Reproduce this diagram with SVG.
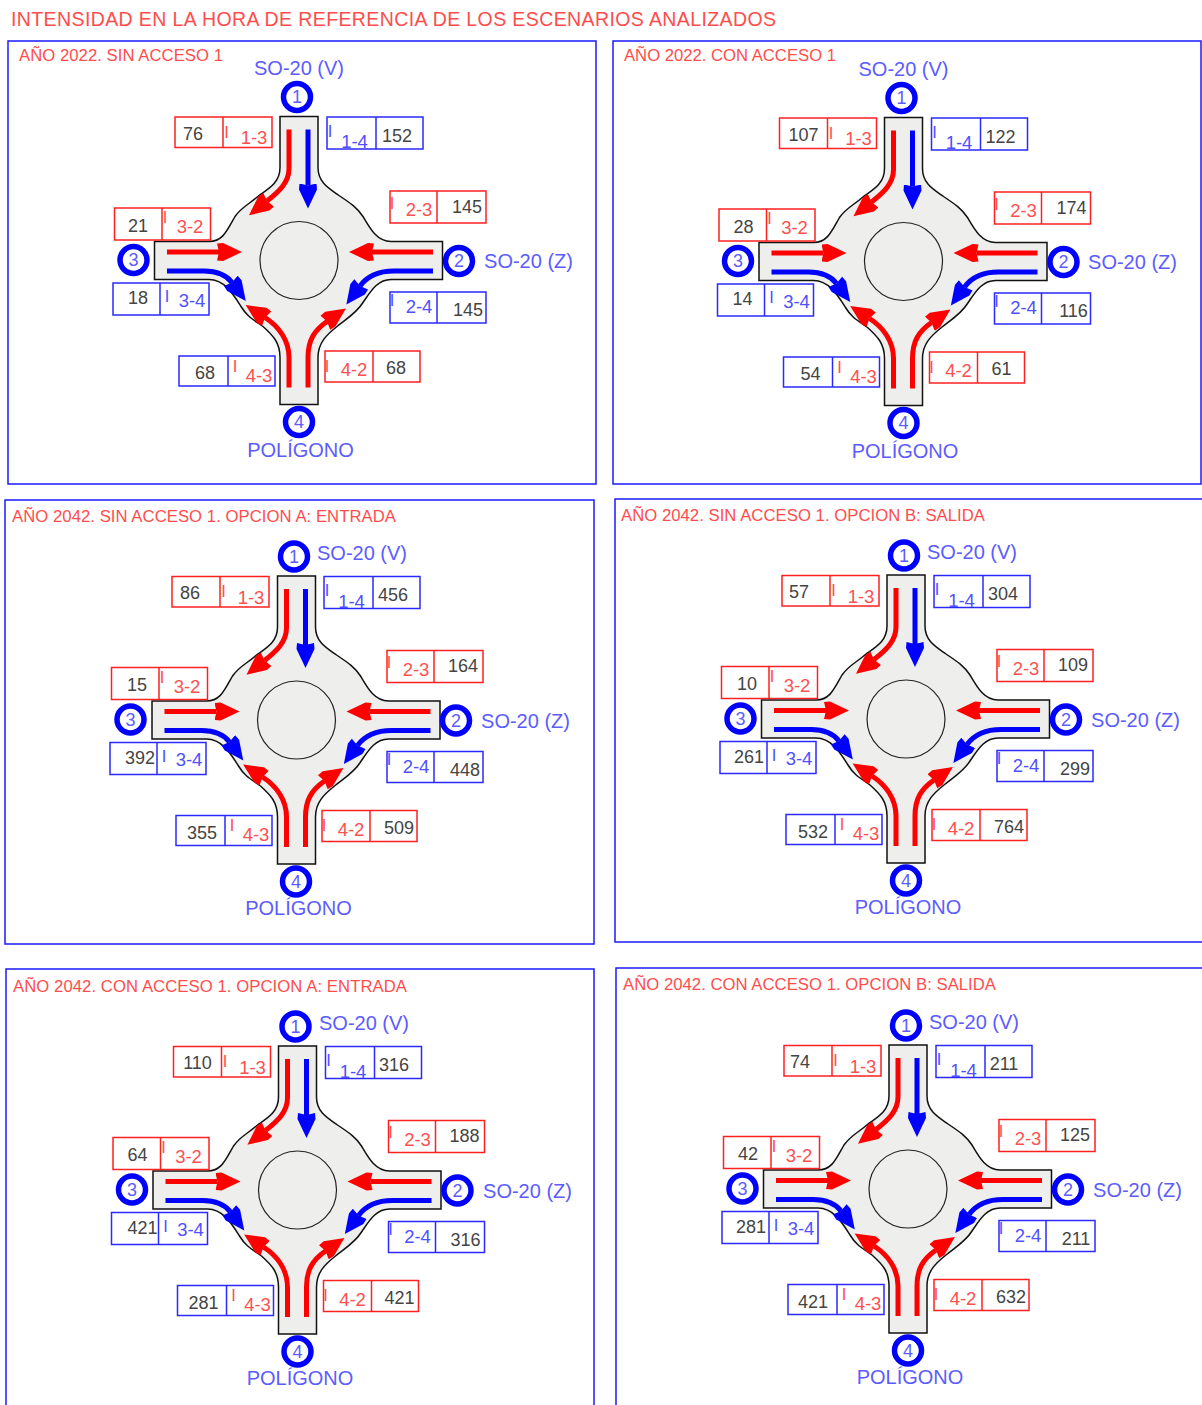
<svg xmlns="http://www.w3.org/2000/svg" width="1202" height="1405" viewBox="0 0 1202 1405">
<style>
text{font-family:"Liberation Sans",Arial,sans-serif}
.head{font-size:19.5px;fill:#ff4d4d}
.pt{font-size:16.7px;fill:#ff4d4d}
.frame{fill:none;stroke:#1a1aff;stroke-width:1.5}
.fr{fill:none;stroke:#ff2020;stroke-width:1.5}
.fb{fill:none;stroke:#2a2aff;stroke-width:1.5}
.road{fill:#eeeeec;stroke:#111;stroke-width:1.5}
.island{fill:#eeeeec;stroke:#222;stroke-width:1.2}
.ar{fill:none;stroke:#ff0000;stroke-width:5;marker-end:url(#mr)}
.ab{fill:none;stroke:#0000ff;stroke-width:5;marker-end:url(#mb)}
.nc{fill:#fff;stroke:#0000ff;stroke-width:5.5}
.nt{font-size:18px;fill:#5c5cff;text-anchor:middle;transform:translateY(0.7px)}
.place{font-size:20px;fill:#5c5cff;text-anchor:middle}
.v{font-size:18px;fill:#444;text-anchor:middle}
.lr{font-size:18.5px;fill:#ff5050;text-anchor:middle}
.lb{font-size:18.5px;fill:#5050ff;text-anchor:middle}
.ir{font-size:16.5px;fill:#ff5050;text-anchor:middle;transform:translateY(0.5px)}
.ib{font-size:16.5px;fill:#5050ff;text-anchor:middle;transform:translateY(0.5px)}
</style>
<defs>
<marker id="mr" markerUnits="userSpaceOnUse" markerWidth="26" markerHeight="22" refX="2" refY="11" orient="auto"><path d="M0,2.5 L6,2 L25,11 L6,20 L0,19.5 L2,11Z" fill="#ff0000"/></marker>
<marker id="mb" markerUnits="userSpaceOnUse" markerWidth="26" markerHeight="22" refX="2" refY="11" orient="auto"><path d="M0,2.5 L6,2 L25,11 L6,20 L0,19.5 L2,11Z" fill="#0000ff"/></marker>
<g id="junction">
<path class="road" d="M-19,-144 H19 V-93 C19,-78 30,-72 40,-65 C52,-57 58,-53 64,-44 C71,-32 78,-19 92,-19 H143.5 V19 H92 C78,19 71,32 64,42 C58,52 48,58 38,66 C28,74 19,82 19,97 V144 H-19 V97 C-19,82 -26,75 -36,66 C-46,59 -52,56 -58,46 C-65,35 -74,19 -90,19 H-144.5 V-19 H-90 C-76,-19 -72,-30 -64,-44 C-57,-54 -50,-56 -40,-65 C-30,-72 -19,-78 -19,-93Z"/>
<circle class="island" cx="0" cy="0" r="39"/>
</g>
<g id="arrows">
<path class="ar" d="M-10,-131 V-92 C-10,-78 -20,-69 -32,-59.5"/>
<path class="ab" d="M9,-131 V-75"/>
<path class="ar" d="M-132,-8.5 H-80"/>
<path class="ar" d="M134,-8.5 H73"/>
<path class="ab" d="M-132,10.5 H-95 C-84,10.5 -73,14 -67,22"/>
<path class="ab" d="M134,10.5 H95 C80,10.5 68,16 61,25.5"/>
<path class="ar" d="M-10,127 V97 C-10,80 -20,66 -34,57"/>
<path class="ar" d="M9,127 V97 C9,80 15,70 28,61"/>
</g>
<g id="f13"><rect class="fr" x="-124" y="-143.5" width="97" height="30.5"/><path class="fr" d="M-76,-143.5 V-113"/></g>
<g id="f14"><rect class="fb" x="28" y="-143.5" width="96" height="32"/><path class="fb" d="M77,-143.5 V-111.5"/></g>
<g id="f23"><rect class="fr" x="91" y="-69.5" width="96" height="32"/><path class="fr" d="M138,-69.5 V-37.5"/></g>
<g id="f32"><rect class="fr" x="-184.5" y="-52.5" width="96" height="32"/><path class="fr" d="M-137,-52.5 V-20.5"/></g>
<g id="f34"><rect class="fb" x="-186" y="22.5" width="96" height="32"/><path class="fb" d="M-139,22.5 V54.5"/></g>
<g id="f24"><rect class="fb" x="91" y="31.5" width="96" height="31"/><path class="fb" d="M138,31.5 V62.5"/></g>
<g id="f43"><rect class="fb" x="-120" y="95.5" width="96" height="30"/><path class="fb" d="M-71,95.5 V125.5"/></g>
<g id="f42"><rect class="fr" x="26" y="90.5" width="95" height="31"/><path class="fr" d="M74,90.5 V121.5"/></g>
</defs>
<rect width="1202" height="1405" fill="#fff"/>
<text class="head" x="11" y="26" textLength="765">INTENSIDAD EN LA HORA DE REFERENCIA DE LOS ESCENARIOS ANALIZADOS</text>

<g id="panel1">
<rect class="frame" x="8" y="41" width="588" height="443"/>
<text class="pt" x="19" y="61" textLength="204">AÑO 2022. SIN ACCESO 1</text>
<g transform="translate(299,260.5)">
<use href="#junction"/>
<g id="p1-connectors"><use href="#arrows"/></g>
<g id="p1-n1"><circle class="nc" cx="-2" cy="-163.5" r="13.5"/><text class="nt" x="-2" y="-158">1</text></g>
<g id="p1-n2"><circle class="nc" cx="160" cy="0.5" r="13.5"/><text class="nt" x="160" y="6">2</text></g>
<g id="p1-n3"><circle class="nc" cx="-165.5" cy="-0.5" r="13.5"/><text class="nt" x="-165.5" y="5">3</text></g>
<g id="p1-n4"><circle class="nc" cx="0" cy="161.5" r="13.5"/><text class="nt" x="0" y="167">4</text></g>
<text class="place" x="0" y="-185.5">SO-20 (V)</text>
<text class="place" x="229.5" y="7.5">SO-20 (Z)</text>
<text class="place" x="1.5" y="196">POLÍGONO</text>
<g id="p1-b13"><use href="#f13"/><text class="v" x="-106" y="-121">76</text><text class="ir" x="-72.5" y="-123.5">I</text><text class="lr" x="-45" y="-116.5">1-3</text></g>
<g id="p1-b14"><use href="#f14"/><text class="v" x="98" y="-119">152</text><text class="ib" x="31" y="-124.5">I</text><text class="lb" x="55.5" y="-112.5">1-4</text></g>
<g id="p1-b23"><use href="#f23"/><text class="v" x="168" y="-48">145</text><text class="ir" x="93" y="-52.5">I</text><text class="lr" x="120" y="-44.5">2-3</text></g>
<g id="p1-b32"><use href="#f32"/><text class="v" x="-161" y="-29">21</text><text class="ir" x="-134" y="-38">I</text><text class="lr" x="-109" y="-27.5">3-2</text></g>
<g id="p1-b34"><use href="#f34"/><text class="v" x="-161" y="43.5">18</text><text class="ib" x="-132" y="41">I</text><text class="lb" x="-107" y="46">3-4</text></g>
<g id="p1-b24"><use href="#f24"/><text class="v" x="169" y="55.5">145</text><text class="ib" x="93" y="44.5">I</text><text class="lb" x="120" y="52.5">2-4</text></g>
<g id="p1-b43"><use href="#f43"/><text class="v" x="-94" y="118.5">68</text><text class="ir" x="-64" y="110.5">I</text><text class="lr" x="-40" y="121">4-3</text></g>
<g id="p1-b42"><use href="#f42"/><text class="v" x="97" y="113.5">68</text><text class="ir" x="28" y="110.5">I</text><text class="lr" x="55" y="115.5">4-2</text></g>
</g></g>

<g id="panel2">
<rect class="frame" x="613" y="41" width="588" height="443"/>
<text class="pt" x="624" y="61" textLength="212">AÑO 2022. CON ACCESO 1</text>
<g transform="translate(903.5,261.5)">
<use href="#junction"/>
<g id="p2-connectors"><use href="#arrows"/></g>
<g id="p2-n1"><circle class="nc" cx="-2" cy="-163.5" r="13.5"/><text class="nt" x="-2" y="-158">1</text></g>
<g id="p2-n2"><circle class="nc" cx="160" cy="0.5" r="13.5"/><text class="nt" x="160" y="6">2</text></g>
<g id="p2-n3"><circle class="nc" cx="-165.5" cy="-0.5" r="13.5"/><text class="nt" x="-165.5" y="5">3</text></g>
<g id="p2-n4"><circle class="nc" cx="0" cy="161.5" r="13.5"/><text class="nt" x="0" y="167">4</text></g>
<text class="place" x="0" y="-185.5">SO-20 (V)</text>
<text class="place" x="229" y="7.5">SO-20 (Z)</text>
<text class="place" x="1.5" y="196">POLÍGONO</text>
<g id="p2-b13"><use href="#f13"/><text class="v" x="-100" y="-121">107</text><text class="ir" x="-72.5" y="-123.5">I</text><text class="lr" x="-45" y="-116.5">1-3</text></g>
<g id="p2-b14"><use href="#f14"/><text class="v" x="97" y="-119">122</text><text class="ib" x="31" y="-124.5">I</text><text class="lb" x="55.5" y="-112.5">1-4</text></g>
<g id="p2-b23"><use href="#f23"/><text class="v" x="168" y="-48">174</text><text class="ir" x="93" y="-52.5">I</text><text class="lr" x="120" y="-44.5">2-3</text></g>
<g id="p2-b32"><use href="#f32"/><text class="v" x="-160" y="-29">28</text><text class="ir" x="-134" y="-38">I</text><text class="lr" x="-109" y="-27.5">3-2</text></g>
<g id="p2-b34"><use href="#f34"/><text class="v" x="-161" y="43.5">14</text><text class="ib" x="-132" y="41">I</text><text class="lb" x="-107" y="46">3-4</text></g>
<g id="p2-b24"><use href="#f24"/><text class="v" x="170" y="55.5">116</text><text class="ib" x="93" y="44.5">I</text><text class="lb" x="120" y="52.5">2-4</text></g>
<g id="p2-b43"><use href="#f43"/><text class="v" x="-93" y="118.5">54</text><text class="ir" x="-64" y="110.5">I</text><text class="lr" x="-40" y="121">4-3</text></g>
<g id="p2-b42"><use href="#f42"/><text class="v" x="98" y="113.5">61</text><text class="ir" x="28" y="110.5">I</text><text class="lr" x="55" y="115.5">4-2</text></g>
</g></g>

<g id="panel3">
<rect class="frame" x="5" y="500" width="589" height="444"/>
<text class="pt" x="12" y="522" textLength="384">AÑO 2042. SIN ACCESO 1. OPCION A: ENTRADA</text>
<g transform="translate(296,720)">
<use href="#junction" x="0.5"/>
<g id="p3-connectors"><use href="#arrows" x="0.5"/></g>
<g id="p3-n1"><circle class="nc" cx="-2" cy="-163.5" r="13.5"/><text class="nt" x="-2" y="-158">1</text></g>
<g id="p3-n2"><circle class="nc" cx="160" cy="0.5" r="13.5"/><text class="nt" x="160" y="6">2</text></g>
<g id="p3-n3"><circle class="nc" cx="-165.5" cy="-0.5" r="13.5"/><text class="nt" x="-165.5" y="5">3</text></g>
<g id="p3-n4"><circle class="nc" cx="0" cy="161.5" r="13.5"/><text class="nt" x="0" y="167">4</text></g>
<text class="place" x="66" y="-160">SO-20 (V)</text>
<text class="place" x="229.5" y="7.5">SO-20 (Z)</text>
<text class="place" x="2.5" y="195">POLÍGONO</text>
<g id="p3-b13"><use href="#f13"/><text class="v" x="-106" y="-121">86</text><text class="ir" x="-72.5" y="-123.5">I</text><text class="lr" x="-45" y="-116.5">1-3</text></g>
<g id="p3-b14"><use href="#f14"/><text class="v" x="97" y="-119">456</text><text class="ib" x="31" y="-124.5">I</text><text class="lb" x="55.5" y="-112.5">1-4</text></g>
<g id="p3-b23"><use href="#f23"/><text class="v" x="167" y="-48">164</text><text class="ir" x="93" y="-52.5">I</text><text class="lr" x="120" y="-44.5">2-3</text></g>
<g id="p3-b32"><use href="#f32"/><text class="v" x="-159" y="-29">15</text><text class="ir" x="-134" y="-38">I</text><text class="lr" x="-109" y="-27.5">3-2</text></g>
<g id="p3-b34"><use href="#f34"/><text class="v" x="-156" y="43.5">392</text><text class="ib" x="-132" y="41">I</text><text class="lb" x="-107" y="46">3-4</text></g>
<g id="p3-b24"><use href="#f24"/><text class="v" x="169" y="55.5">448</text><text class="ib" x="93" y="44.5">I</text><text class="lb" x="120" y="52.5">2-4</text></g>
<g id="p3-b43"><use href="#f43"/><text class="v" x="-94" y="118.5">355</text><text class="ir" x="-64" y="110.5">I</text><text class="lr" x="-40" y="121">4-3</text></g>
<g id="p3-b42"><use href="#f42"/><text class="v" x="103" y="113.5">509</text><text class="ir" x="28" y="110.5">I</text><text class="lr" x="55" y="115.5">4-2</text></g>
</g></g>

<g id="panel4">
<rect class="frame" x="615" y="499" width="600" height="443"/>
<text class="pt" x="621" y="521" textLength="364">AÑO 2042. SIN ACCESO 1. OPCION B: SALIDA</text>
<g transform="translate(906,719)">
<use href="#junction"/>
<g id="p4-connectors"><use href="#arrows"/></g>
<g id="p4-n1"><circle class="nc" cx="-2" cy="-163.5" r="13.5"/><text class="nt" x="-2" y="-158">1</text></g>
<g id="p4-n2"><circle class="nc" cx="160" cy="0.5" r="13.5"/><text class="nt" x="160" y="6">2</text></g>
<g id="p4-n3"><circle class="nc" cx="-165.5" cy="-0.5" r="13.5"/><text class="nt" x="-165.5" y="5">3</text></g>
<g id="p4-n4"><circle class="nc" cx="0" cy="161.5" r="13.5"/><text class="nt" x="0" y="167">4</text></g>
<text class="place" x="66" y="-160">SO-20 (V)</text>
<text class="place" x="229.5" y="7.5">SO-20 (Z)</text>
<text class="place" x="2" y="195">POLÍGONO</text>
<g id="p4-b13"><use href="#f13"/><text class="v" x="-107" y="-121">57</text><text class="ir" x="-72.5" y="-123.5">I</text><text class="lr" x="-45" y="-116.5">1-3</text></g>
<g id="p4-b14"><use href="#f14"/><text class="v" x="97" y="-119">304</text><text class="ib" x="31" y="-124.5">I</text><text class="lb" x="55.5" y="-112.5">1-4</text></g>
<g id="p4-b23"><use href="#f23"/><text class="v" x="167" y="-48">109</text><text class="ir" x="93" y="-52.5">I</text><text class="lr" x="120" y="-44.5">2-3</text></g>
<g id="p4-b32"><use href="#f32"/><text class="v" x="-159" y="-29">10</text><text class="ir" x="-134" y="-38">I</text><text class="lr" x="-109" y="-27.5">3-2</text></g>
<g id="p4-b34"><use href="#f34"/><text class="v" x="-157" y="43.5">261</text><text class="ib" x="-132" y="41">I</text><text class="lb" x="-107" y="46">3-4</text></g>
<g id="p4-b24"><use href="#f24"/><text class="v" x="169" y="55.5">299</text><text class="ib" x="93" y="44.5">I</text><text class="lb" x="120" y="52.5">2-4</text></g>
<g id="p4-b43"><use href="#f43"/><text class="v" x="-93" y="118.5">532</text><text class="ir" x="-64" y="110.5">I</text><text class="lr" x="-40" y="121">4-3</text></g>
<g id="p4-b42"><use href="#f42"/><text class="v" x="103" y="113.5">764</text><text class="ir" x="28" y="110.5">I</text><text class="lr" x="55" y="115.5">4-2</text></g>
</g></g>

<g id="panel5">
<rect class="frame" x="6" y="969" width="588" height="444"/>
<text class="pt" x="13" y="992" textLength="394">AÑO 2042. CON ACCESO 1. OPCION A: ENTRADA</text>
<g transform="translate(297.5,1190)">
<use href="#junction"/>
<g id="p5-connectors"><use href="#arrows"/></g>
<g id="p5-n1"><circle class="nc" cx="-2" cy="-163.5" r="13.5"/><text class="nt" x="-2" y="-158">1</text></g>
<g id="p5-n2"><circle class="nc" cx="160" cy="0.5" r="13.5"/><text class="nt" x="160" y="6">2</text></g>
<g id="p5-n3"><circle class="nc" cx="-165.5" cy="-0.5" r="13.5"/><text class="nt" x="-165.5" y="5">3</text></g>
<g id="p5-n4"><circle class="nc" cx="0" cy="161.5" r="13.5"/><text class="nt" x="0" y="167">4</text></g>
<text class="place" x="66.5" y="-160">SO-20 (V)</text>
<text class="place" x="230" y="7.5">SO-20 (Z)</text>
<text class="place" x="2.5" y="195">POLÍGONO</text>
<g id="p5-b13"><use href="#f13"/><text class="v" x="-100" y="-121">110</text><text class="ir" x="-72.5" y="-123.5">I</text><text class="lr" x="-45" y="-116.5">1-3</text></g>
<g id="p5-b14"><use href="#f14"/><text class="v" x="96.5" y="-119">316</text><text class="ib" x="31" y="-124.5">I</text><text class="lb" x="55.5" y="-112.5">1-4</text></g>
<g id="p5-b23"><use href="#f23"/><text class="v" x="167" y="-48">188</text><text class="ir" x="93" y="-52.5">I</text><text class="lr" x="120" y="-44.5">2-3</text></g>
<g id="p5-b32"><use href="#f32"/><text class="v" x="-160" y="-29">64</text><text class="ir" x="-134" y="-38">I</text><text class="lr" x="-109" y="-27.5">3-2</text></g>
<g id="p5-b34"><use href="#f34"/><text class="v" x="-155" y="43.5">421</text><text class="ib" x="-132" y="41">I</text><text class="lb" x="-107" y="46">3-4</text></g>
<g id="p5-b24"><use href="#f24"/><text class="v" x="168" y="55.5">316</text><text class="ib" x="93" y="44.5">I</text><text class="lb" x="120" y="52.5">2-4</text></g>
<g id="p5-b43"><use href="#f43"/><text class="v" x="-94" y="118.5">281</text><text class="ir" x="-64" y="110.5">I</text><text class="lr" x="-40" y="121">4-3</text></g>
<g id="p5-b42"><use href="#f42"/><text class="v" x="102" y="113.5">421</text><text class="ir" x="28" y="110.5">I</text><text class="lr" x="55" y="115.5">4-2</text></g>
</g></g>

<g id="panel6">
<rect class="frame" x="616" y="968" width="600" height="445"/>
<text class="pt" x="623" y="990" textLength="373">AÑO 2042. CON ACCESO 1. OPCION B: SALIDA</text>
<g transform="translate(908,1189)">
<use href="#junction"/>
<g id="p6-connectors"><use href="#arrows"/></g>
<g id="p6-n1"><circle class="nc" cx="-2" cy="-163.5" r="13.5"/><text class="nt" x="-2" y="-158">1</text></g>
<g id="p6-n2"><circle class="nc" cx="160" cy="0.5" r="13.5"/><text class="nt" x="160" y="6">2</text></g>
<g id="p6-n3"><circle class="nc" cx="-165.5" cy="-0.5" r="13.5"/><text class="nt" x="-165.5" y="5">3</text></g>
<g id="p6-n4"><circle class="nc" cx="0" cy="161.5" r="13.5"/><text class="nt" x="0" y="167">4</text></g>
<text class="place" x="66" y="-160">SO-20 (V)</text>
<text class="place" x="229.5" y="7.5">SO-20 (Z)</text>
<text class="place" x="2" y="195">POLÍGONO</text>
<g id="p6-b13"><use href="#f13"/><text class="v" x="-108" y="-121">74</text><text class="ir" x="-72.5" y="-123.5">I</text><text class="lr" x="-45" y="-116.5">1-3</text></g>
<g id="p6-b14"><use href="#f14"/><text class="v" x="96" y="-119">211</text><text class="ib" x="31" y="-124.5">I</text><text class="lb" x="55.5" y="-112.5">1-4</text></g>
<g id="p6-b23"><use href="#f23"/><text class="v" x="167" y="-48">125</text><text class="ir" x="93" y="-52.5">I</text><text class="lr" x="120" y="-44.5">2-3</text></g>
<g id="p6-b32"><use href="#f32"/><text class="v" x="-160" y="-29">42</text><text class="ir" x="-134" y="-38">I</text><text class="lr" x="-109" y="-27.5">3-2</text></g>
<g id="p6-b34"><use href="#f34"/><text class="v" x="-157" y="43.5">281</text><text class="ib" x="-132" y="41">I</text><text class="lb" x="-107" y="46">3-4</text></g>
<g id="p6-b24"><use href="#f24"/><text class="v" x="168" y="55.5">211</text><text class="ib" x="93" y="44.5">I</text><text class="lb" x="120" y="52.5">2-4</text></g>
<g id="p6-b43"><use href="#f43"/><text class="v" x="-95" y="118.5">421</text><text class="ir" x="-64" y="110.5">I</text><text class="lr" x="-40" y="121">4-3</text></g>
<g id="p6-b42"><use href="#f42"/><text class="v" x="103" y="113.5">632</text><text class="ir" x="28" y="110.5">I</text><text class="lr" x="55" y="115.5">4-2</text></g>
</g></g>
</svg>
